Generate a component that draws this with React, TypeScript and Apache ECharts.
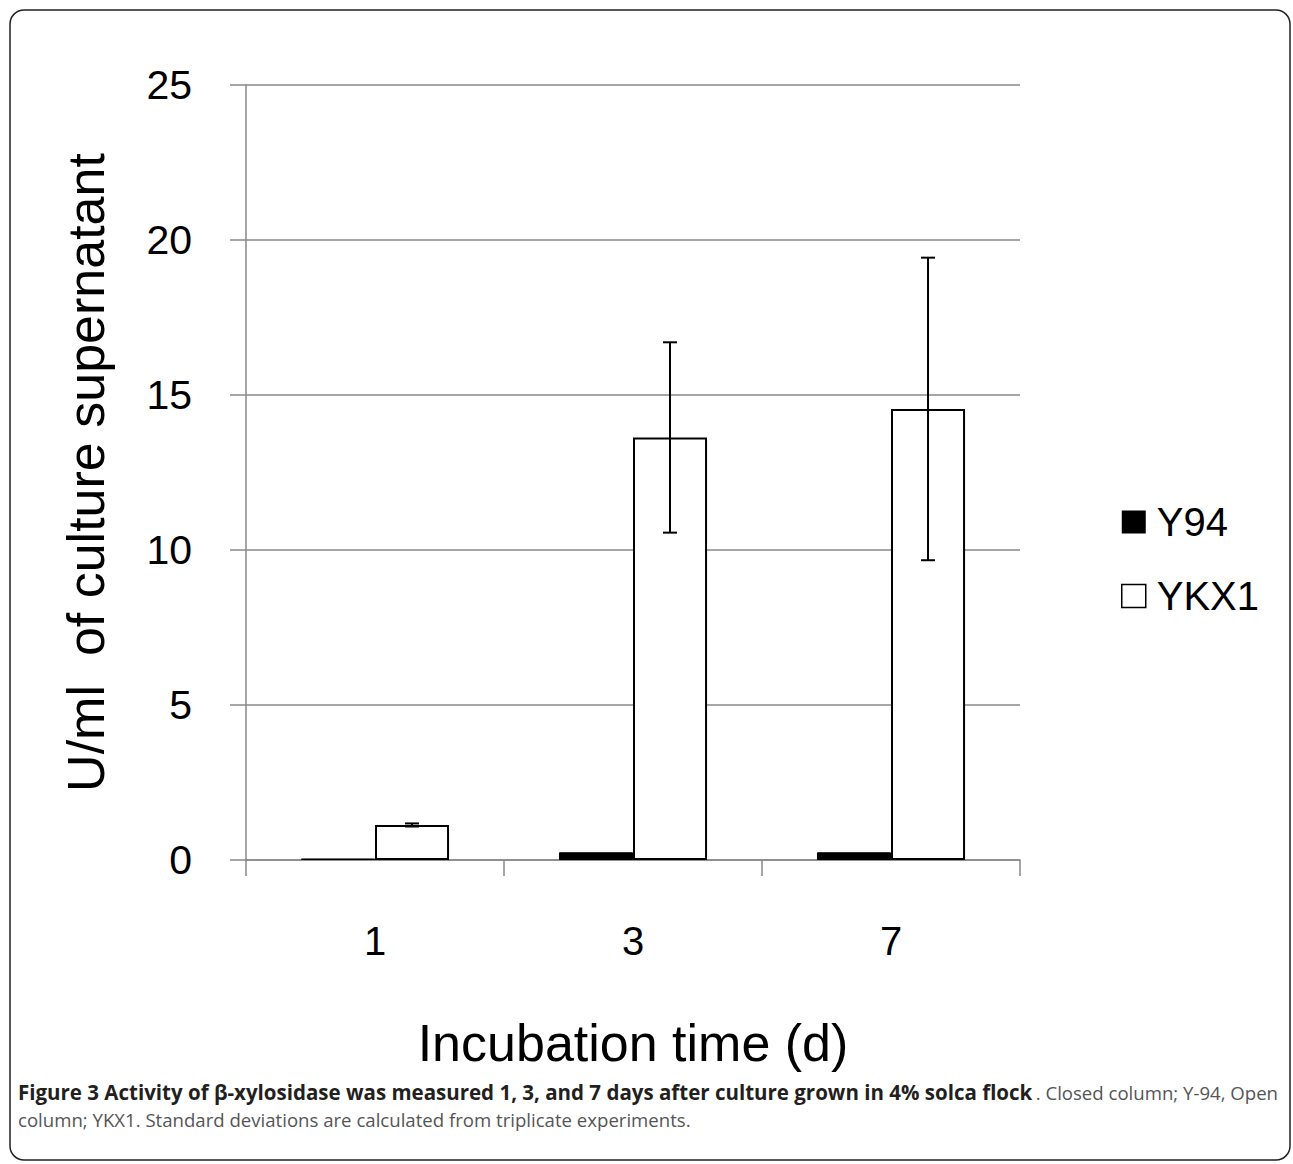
import React, { useEffect, useRef } from "react";
import * as echarts from "echarts";

const categories = ["1", "3", "7"];
const y94Values = [0.05, 0.25, 0.25];
const ykx1Values = [1.13, 13.63, 14.55];
const ykx1Errors = [0.05, 3.07, 4.88];
const yTicks = [0, 5, 10, 15, 20, 25];
const seriesNames = ["Y94", "YKX1"];
const captionBold = "Figure 3 Activity of β-xylosidase was measured 1, 3, and 7 days after culture grown in 4% solca flock";
const captionRest1 = ". Closed column; Y-94, Open";
const captionLine2 = "column; YKX1. Standard deviations are calculated from triplicate experiments.";

const BAR_W = 0.287;

export default function App() {
  const ref = useRef<HTMLDivElement>(null);
  useEffect(() => {
    document.body.style.margin = "0";
    const chart = echarts.init(ref.current!, null, { renderer: "svg" });
    const font = "'Liberation Sans', Arial, sans-serif";
    const cap = "'Open Sans', sans-serif";
    chart.setOption({
      animation: false,
      backgroundColor: "#fff",
      grid: { left: 246, right: 273, top: 85, bottom: 304, containLabel: false },
      legend: {
        orient: "vertical",
        left: 1116,
        top: 497,
        itemWidth: 24,
        itemHeight: 23,
        itemGap: 34,
        icon: "rect",
        textStyle: { fontFamily: font, fontSize: 40, color: "#000", padding: [0, 0, 0, 6] },
        data: [
          { name: seriesNames[0], itemStyle: { color: "#000", borderWidth: 0 } },
          { name: seriesNames[1], itemStyle: { color: "#fff", borderColor: "#000", borderWidth: 1.5 } },
        ],
      },
      xAxis: {
        type: "category",
        data: categories,
        name: "Incubation time (d)",
        nameLocation: "middle",
        nameGap: 157,
        nameTextStyle: { fontFamily: font, fontSize: 52, color: "#000" },
        axisLine: { lineStyle: { color: "#888", width: 1.5 } },
        axisTick: { show: true, length: 16, lineStyle: { color: "#888", width: 1.5 } },
        axisLabel: { fontFamily: font, fontSize: 40, color: "#000", margin: 61 },
      },
      yAxis: {
        type: "value",
        min: 0,
        max: 25,
        interval: 5,
        name: "U/ml  of culture supernatant",
        nameLocation: "middle",
        nameGap: 134,
        nameRotate: 90,
        nameTextStyle: { fontFamily: font, fontSize: 52, color: "#000" },
        axisLine: { show: true, lineStyle: { color: "#888", width: 1.5 } },
        axisTick: { show: true, length: 16, inside: false, lineStyle: { color: "#888", width: 1.5 } },
        axisLabel: {
          fontFamily: font,
          fontSize: 41,
          color: "#000",
          margin: 54,
          formatter: (v: number) => (yTicks.includes(v) ? String(v) : ""),
        },
        splitLine: { show: true, lineStyle: { color: "#888", width: 1.5 } },
      },
      series: [
        {
          name: seriesNames[0],
          type: "bar",
          data: y94Values,
          barWidth: BAR_W * 100 + "%",
          barGap: "0%",
          itemStyle: { color: "#000", borderColor: "#000", borderWidth: 1 },
        },
        {
          name: seriesNames[1],
          type: "bar",
          data: ykx1Values,
          barWidth: BAR_W * 100 + "%",
          barGap: "0%",
          itemStyle: { color: "#fff", borderColor: "#000", borderWidth: 2 },
        },
        {
          name: "err",
          type: "custom",
          data: ykx1Values.map((v, i) => [i, v - ykx1Errors[i], v + ykx1Errors[i]]),
          renderItem: (params: any, api: any) => {
            const idx = api.value(0);
            const lo = api.coord([idx, api.value(1)]);
            const hi = api.coord([idx, api.value(2)]);
            const band = api.size([1, 0])[0];
            const x = lo[0] + band * BAR_W / 2;
            const capW = 7;
            const style = { stroke: "#000", lineWidth: 2 };
            return {
              type: "group",
              children: [
                { type: "line", shape: { x1: x, y1: lo[1], x2: x, y2: hi[1] }, style },
                { type: "line", shape: { x1: x - capW, y1: hi[1], x2: x + capW, y2: hi[1] }, style },
                { type: "line", shape: { x1: x - capW, y1: lo[1], x2: x + capW, y2: lo[1] }, style },
              ],
            };
          },
          z: 10,
        },
      ],
      graphic: [
        {
          type: "rect",
          shape: { x: 10, y: 10, width: 1280, height: 1150, r: 14 },
          style: { fill: "none", stroke: "#222", lineWidth: 1.5 },
          silent: true,
        },
        {
          type: "text",
          left: 18,
          top: 1081,
          style: {
            text: captionBold,
            fontFamily: cap,
            fontSize: 20.5,
            fontWeight: "bold",
            fill: "#231f20",
          },
        },
        {
          type: "text",
          right: 15,
          top: 1083,
          style: {
            text: captionRest1,
            fontFamily: cap,
            fontSize: 18.6,
            fill: "#555",
          },
        },
        {
          type: "text",
          left: 18,
          top: 1110,
          style: {
            text: captionLine2,
            fontFamily: cap,
            fontSize: 18.6,
            fill: "#555",
          },
        },
      ],
    });
    return () => chart.dispose();
  }, []);
  return <div ref={ref} style={{ width: 1293, height: 1164 }} />;
}
